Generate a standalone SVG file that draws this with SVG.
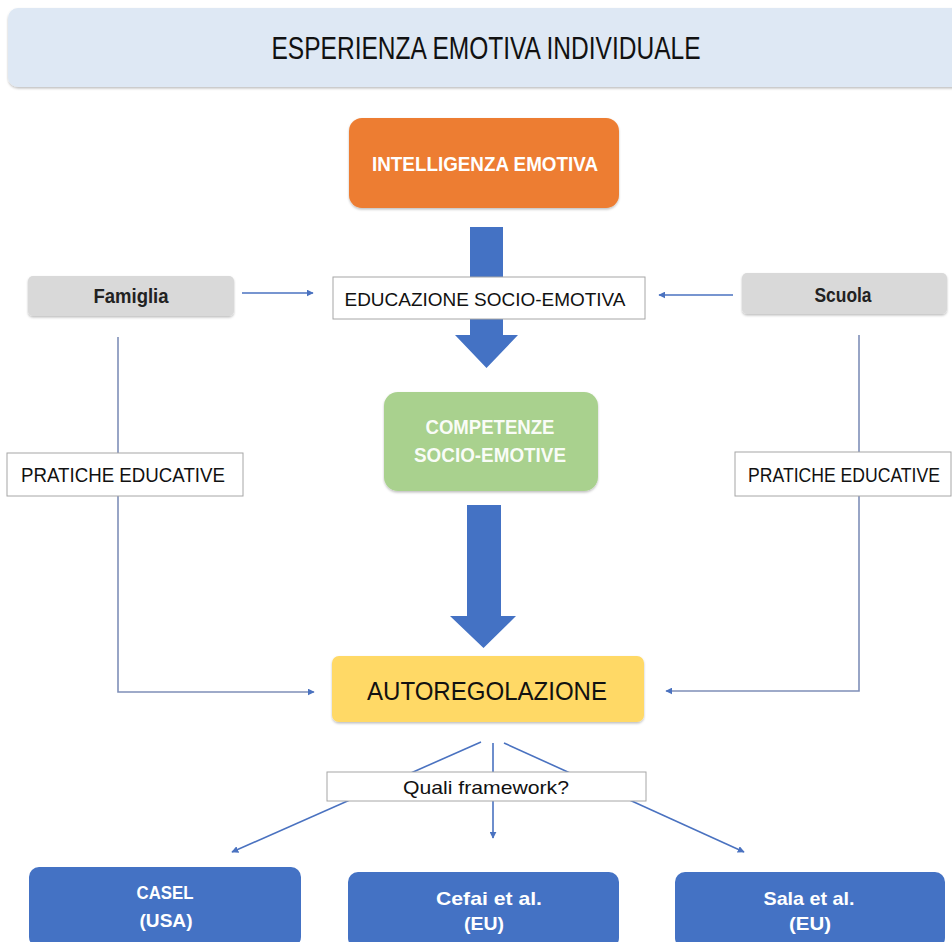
<svg xmlns="http://www.w3.org/2000/svg" width="952" height="942" viewBox="0 0 952 942">
<defs>
<style>
text{font-family:"Liberation Sans",Arial,sans-serif;text-anchor:middle}
.w{fill:#ffffff;font-weight:bold}
.k{fill:#111111}
.b{font-weight:bold;fill:#222222}
.thin{stroke:#4a72c0;stroke-width:1.6;fill:none}
.gl{stroke:#7f8fb8;stroke-width:1.6;fill:none}
.lbl{fill:#ffffff;stroke:#a6a6a6;stroke-width:1}
</style>
<marker id="ah" viewBox="0 0 10 10" refX="9" refY="5" markerWidth="7" markerHeight="7" markerUnits="userSpaceOnUse" orient="auto"><path d="M0,0L10,5L0,10z" fill="#4a72c0"/></marker>
<filter id="sh" x="-5%" y="-10%" width="110%" height="130%"><feDropShadow dx="0" dy="1.5" stdDeviation="1.2" flood-color="#000" flood-opacity="0.25"/></filter>
</defs>
<rect width="952" height="942" fill="#ffffff"/>

<g id="connectors">
<path class="gl" d="M118,337V692H314" marker-end="url(#ah)"/>
<path class="gl" d="M859,335V691H666" marker-end="url(#ah)"/>
<line class="thin" x1="242" y1="293" x2="313" y2="293" marker-end="url(#ah)"/>
<line class="thin" x1="733" y1="295" x2="659" y2="295" marker-end="url(#ah)"/>
<line class="thin" x1="481" y1="742" x2="232" y2="852" marker-end="url(#ah)"/>
<line class="thin" x1="493" y1="743" x2="493" y2="838" marker-end="url(#ah)"/>
<line class="thin" x1="504" y1="743" x2="744" y2="852" marker-end="url(#ah)"/>
<path d="M470,227H503V335H518L486.5,368L455,335H470Z" fill="#4472c4"/>
<path d="M467,505H501V616H516L483.5,648L450,616H467Z" fill="#4472c4"/>
</g>

<g id="title">
<rect x="8" y="8" width="960" height="79" rx="10" fill="#dee8f4" filter="url(#sh)"/>
<text x="486" y="59" font-size="32" class="k" textLength="429" lengthAdjust="spacingAndGlyphs">ESPERIENZA EMOTIVA INDIVIDUALE</text>
</g>

<g id="intelligenza">
<rect x="349" y="118" width="270" height="90" rx="13" fill="#ed7d31" filter="url(#sh)"/>
<text x="485" y="171" font-size="21" class="w" textLength="226" lengthAdjust="spacingAndGlyphs">INTELLIGENZA EMOTIVA</text>
</g>

<g id="educazione">
<rect x="333" y="277" width="312" height="42" class="lbl"/>
<text x="485" y="306" font-size="18.5" class="k" textLength="281" lengthAdjust="spacingAndGlyphs">EDUCAZIONE SOCIO-EMOTIVA</text>
</g>

<g id="famiglia">
<rect x="28" y="276" width="206" height="40" rx="5" fill="#d9d9d9" filter="url(#sh)"/>
<text x="131" y="303" font-size="20" class="b" textLength="75" lengthAdjust="spacingAndGlyphs">Famiglia</text>
</g>

<g id="scuola">
<rect x="742" y="273" width="205" height="41" rx="5" fill="#d9d9d9" filter="url(#sh)"/>
<text x="843" y="302" font-size="20" class="b" textLength="57" lengthAdjust="spacingAndGlyphs">Scuola</text>
</g>

<g id="pratiche-sx">
<rect x="7" y="453" width="236" height="43" class="lbl"/>
<text x="123" y="482" font-size="20" class="k" textLength="204" lengthAdjust="spacingAndGlyphs">PRATICHE EDUCATIVE</text>
</g>

<g id="pratiche-dx">
<rect x="735" y="452" width="216" height="44" class="lbl"/>
<text x="844" y="482" font-size="20" class="k" textLength="192" lengthAdjust="spacingAndGlyphs">PRATICHE EDUCATIVE</text>
</g>

<g id="competenze">
<rect x="384" y="392" width="214" height="99" rx="14" fill="#a9d18e" filter="url(#sh)"/>
<text x="490" y="434" font-size="20" class="w" fill-opacity="0.95" textLength="129" lengthAdjust="spacingAndGlyphs">COMPETENZE</text>
<text x="490" y="462" font-size="20" class="w" fill-opacity="0.95" textLength="152" lengthAdjust="spacingAndGlyphs">SOCIO-EMOTIVE</text>
</g>

<g id="autoregolazione">
<rect x="332" y="656" width="312" height="66" rx="7" fill="#ffd966" filter="url(#sh)"/>
<text x="487" y="700" font-size="25" class="k" textLength="240" lengthAdjust="spacingAndGlyphs">AUTOREGOLAZIONE</text>
</g>

<g id="quali">
<rect x="327" y="772" width="319" height="29" class="lbl"/>
<text x="486" y="794" font-size="19" class="k" textLength="166" lengthAdjust="spacingAndGlyphs">Quali framework?</text>
</g>

<g id="casel">
<rect x="29" y="867" width="272" height="80" rx="10" fill="#4472c4"/>
<text x="165" y="899" font-size="19" class="w" textLength="57" lengthAdjust="spacingAndGlyphs">CASEL</text>
<text x="166" y="927" font-size="19" class="w" textLength="53" lengthAdjust="spacingAndGlyphs">(USA)</text>
</g>

<g id="cefai">
<rect x="348" y="872" width="271" height="76" rx="10" fill="#4472c4"/>
<text x="489" y="905" font-size="19" class="w" textLength="106" lengthAdjust="spacingAndGlyphs">Cefai et al.</text>
<text x="484" y="930" font-size="19" class="w" textLength="40" lengthAdjust="spacingAndGlyphs">(EU)</text>
</g>

<g id="sala">
<rect x="675" y="872" width="270" height="76" rx="10" fill="#4472c4"/>
<text x="809" y="905" font-size="19" class="w" textLength="91" lengthAdjust="spacingAndGlyphs">Sala et al.</text>
<text x="810" y="930" font-size="19" class="w" textLength="42" lengthAdjust="spacingAndGlyphs">(EU)</text>
</g>
</svg>
